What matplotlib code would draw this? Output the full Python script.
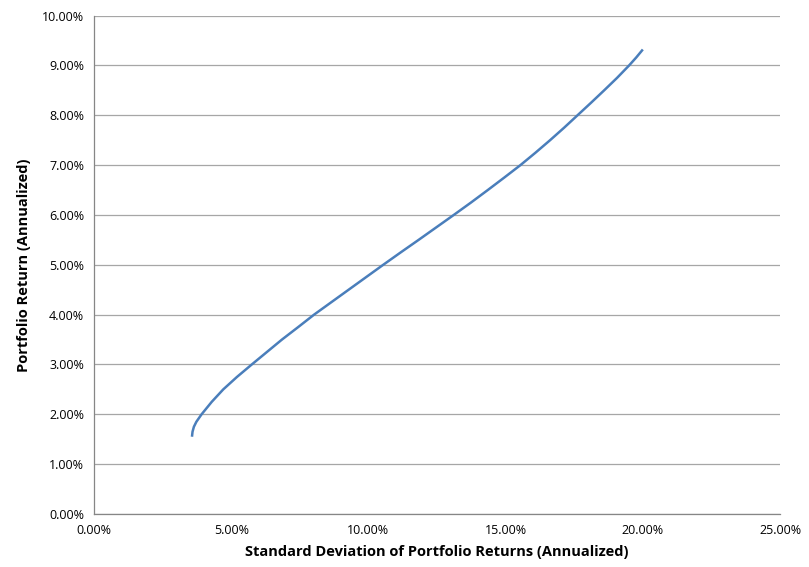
import numpy as np
from matplotlib import pyplot as plt
from matplotlib.ticker import PercentFormatter

# Efficient frontier points (in %)
std_dev = [3.57, 3.59, 3.64, 3.73, 3.92, 4.29, 4.71, 5.21, 5.75, 6.30, 6.85, 7.44,
           8.02, 8.65, 9.28, 9.91, 10.54, 11.18, 11.83, 12.47, 13.11, 13.74, 14.35,
           14.95, 15.54, 16.09, 16.62, 17.13, 17.62, 18.11, 18.59, 19.06, 19.50,
           19.76, 20.00]
port_ret = [1.55, 1.65, 1.75, 1.85, 2.00, 2.25, 2.50, 2.75, 3.00, 3.25, 3.50, 3.75,
            4.00, 4.25, 4.50, 4.75, 5.00, 5.25, 5.50, 5.75, 6.00, 6.25, 6.50,
            6.75, 7.00, 7.25, 7.50, 7.75, 8.00, 8.25, 8.50, 8.75, 9.00,
            9.16, 9.32]

x_ticks = [0, 5, 10, 15, 20, 25]
y_ticks = [0, 1, 2, 3, 4, 5, 6, 7, 8, 9, 10]

plt.rcParams['font.family'] = ['Open Sans', 'DejaVu Sans']

fig = plt.figure(figsize=(8.09, 5.67), dpi=100)
ax = fig.add_axes([0.1162, 0.0935, 0.848, 0.879])

ax.plot(std_dev, port_ret, color='#4A7EBB', linewidth=1.8,
        solid_joinstyle='round', solid_capstyle='butt')

ax.set_xlim(0, 25)
ax.set_ylim(0, 10)
ax.set_xticks(x_ticks)
ax.set_yticks(y_ticks)
ax.xaxis.set_major_formatter(PercentFormatter(decimals=2))
ax.yaxis.set_major_formatter(PercentFormatter(decimals=2))
ax.tick_params(length=0, labelsize=9, colors='#000000', pad=7)

# Gridlines horizontales como en Excel
ax.grid(axis='y', color='#A6A6A6', linewidth=0.9)
ax.set_axisbelow(True)
for s in ['top', 'right']:
    ax.spines[s].set_visible(False)
for s in ['left', 'bottom']:
    ax.spines[s].set_color('#868686')
    ax.spines[s].set_linewidth(0.9)

ax.set_xlabel('Standard Deviation of Portfolio Returns (Annualized)',
              fontsize=10.5, fontweight='bold', labelpad=6)
ax.set_ylabel('Portfolio Return (Annualized)', fontsize=10.5, fontweight='bold', labelpad=8)

plt.savefig('out.png')
